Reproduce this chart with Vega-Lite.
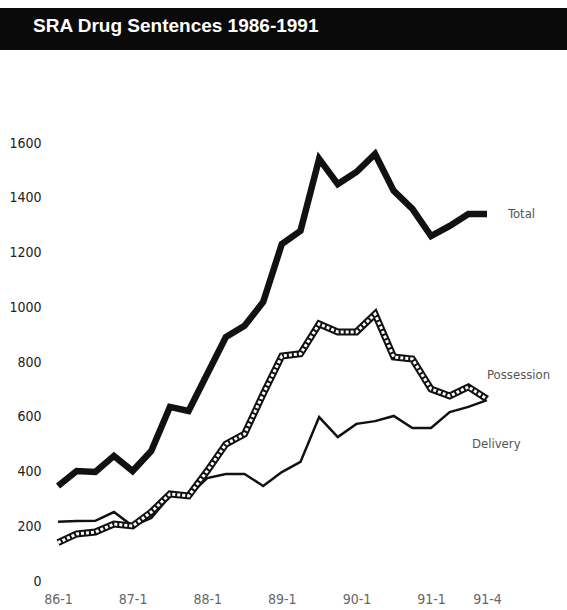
{
  "$schema": "https://vega.github.io/schema/vega-lite/v6.json",
  "padding": {"left": 0, "top": 8, "right": 0, "bottom": 0},
  "spacing": 86,
  "config": {"view": {"stroke": null}, "font": "DejaVu Sans Condensed, DejaVu Sans, sans-serif"},
  "datasets": {
    "header": [{"title": "SRA Drug Sentences 1986-1991"}],
    "sentences": [
      {"q": "86-1", "Total": 347, "Possession": 140, "Delivery": 216},
      {"q": "86-2", "Total": 402, "Possession": 172, "Delivery": 219},
      {"q": "86-3", "Total": 398, "Possession": 179, "Delivery": 220},
      {"q": "86-4", "Total": 457, "Possession": 208, "Delivery": 252},
      {"q": "87-1", "Total": 402, "Possession": 201, "Delivery": 201},
      {"q": "87-2", "Total": 475, "Possession": 252, "Delivery": 230},
      {"q": "87-3", "Total": 636, "Possession": 318, "Delivery": 311},
      {"q": "87-4", "Total": 621, "Possession": 311, "Delivery": 311},
      {"q": "88-1", "Total": 756, "Possession": 402, "Delivery": 376},
      {"q": "88-2", "Total": 891, "Possession": 500, "Delivery": 391},
      {"q": "88-3", "Total": 932, "Possession": 537, "Delivery": 391},
      {"q": "88-4", "Total": 1019, "Possession": 683, "Delivery": 347},
      {"q": "89-1", "Total": 1231, "Possession": 822, "Delivery": 398},
      {"q": "89-2", "Total": 1279, "Possession": 830, "Delivery": 435},
      {"q": "89-3", "Total": 1542, "Possession": 939, "Delivery": 599},
      {"q": "89-4", "Total": 1450, "Possession": 910, "Delivery": 526},
      {"q": "90-1", "Total": 1494, "Possession": 910, "Delivery": 574},
      {"q": "90-2", "Total": 1560, "Possession": 975, "Delivery": 584},
      {"q": "90-3", "Total": 1425, "Possession": 818, "Delivery": 603},
      {"q": "90-4", "Total": 1359, "Possession": 811, "Delivery": 559},
      {"q": "91-1", "Total": 1260, "Possession": 701, "Delivery": 559},
      {"q": "91-2", "Total": 1297, "Possession": 676, "Delivery": 617},
      {"q": "91-3", "Total": 1341, "Possession": 709, "Delivery": 636},
      {"q": "91-4", "Total": 1341, "Possession": 665, "Delivery": 661}
    ]
  },
  "vconcat": [
    {
      "width": 567,
      "height": 42,
      "view": {"fill": "#0a0a0a", "stroke": null},
      "data": {"name": "header"},
      "mark": {"type": "text", "font": "Liberation Sans", "fontWeight": "bold", "fontSize": 19, "color": "white", "align": "left", "baseline": "alphabetic", "dx": -250.5, "dy": 3},
      "encoding": {"text": {"field": "title"}}
    },
    {
      "width": 545,
      "height": 438,
      "data": {"name": "sentences"},
      "transform": [{"fold": ["Total", "Possession", "Delivery"], "as": ["series", "value"]}],
      "encoding": {
        "x": {"field": "q", "type": "ordinal", "sort": null,
          "scale": {"type": "point", "padding": 0, "range": [58, 487]},
          "axis": {"values": ["86-1", "87-1", "88-1", "89-1", "90-1", "91-1", "91-4"], "labelAngle": 0, "ticks": false, "domain": false, "labelPadding": 11, "labelFontSize": 14, "labelColor": "#666", "title": null}},
        "y": {"field": "value", "type": "quantitative",
          "scale": {"domain": [0, 1600], "nice": false, "zero": true},
          "axis": {"values": [0, 200, 400, 600, 800, 1000, 1200, 1400, 1600], "format": "d", "offset": -41, "ticks": false, "domain": false, "grid": false, "labelPadding": 0, "labelFontSize": 14, "labelColor": "#222", "title": null}}
      },
      "layer": [
        {"transform": [{"filter": "datum.series === 'Delivery'"}],
         "mark": {"type": "line", "color": "#111", "strokeWidth": 2.5}},
        {"transform": [{"filter": "datum.series === 'Possession'"}],
         "mark": {"type": "line", "color": "#111", "strokeWidth": 7}},
        {"transform": [{"filter": "datum.series === 'Possession'"}],
         "mark": {"type": "line", "color": "white", "strokeWidth": 3, "strokeDash": [3, 2]}},
        {"transform": [{"filter": "datum.series === 'Total'"}],
         "mark": {"type": "line", "color": "#111", "strokeWidth": 6.5}},
        {"transform": [{"filter": "datum.series === 'Total' && datum.q === '91-4'"}],
         "mark": {"type": "text", "align": "left", "baseline": "middle", "dx": 21, "fontSize": 13, "color": "#555"},
         "encoding": {"text": {"field": "series"}}},
        {"transform": [{"filter": "datum.series === 'Possession' && datum.q === '91-4'"}],
         "mark": {"type": "text", "align": "left", "baseline": "middle", "dx": 0, "dy": -24, "fontSize": 13, "color": "#555"},
         "encoding": {"text": {"field": "series"}}},
        {"transform": [{"filter": "datum.series === 'Delivery' && datum.q === '91-4'"}],
         "mark": {"type": "text", "align": "left", "baseline": "middle", "dx": -15, "dy": 44, "fontSize": 13, "color": "#555"},
         "encoding": {"text": {"field": "series"}}}
      ]
    }
  ]
}
